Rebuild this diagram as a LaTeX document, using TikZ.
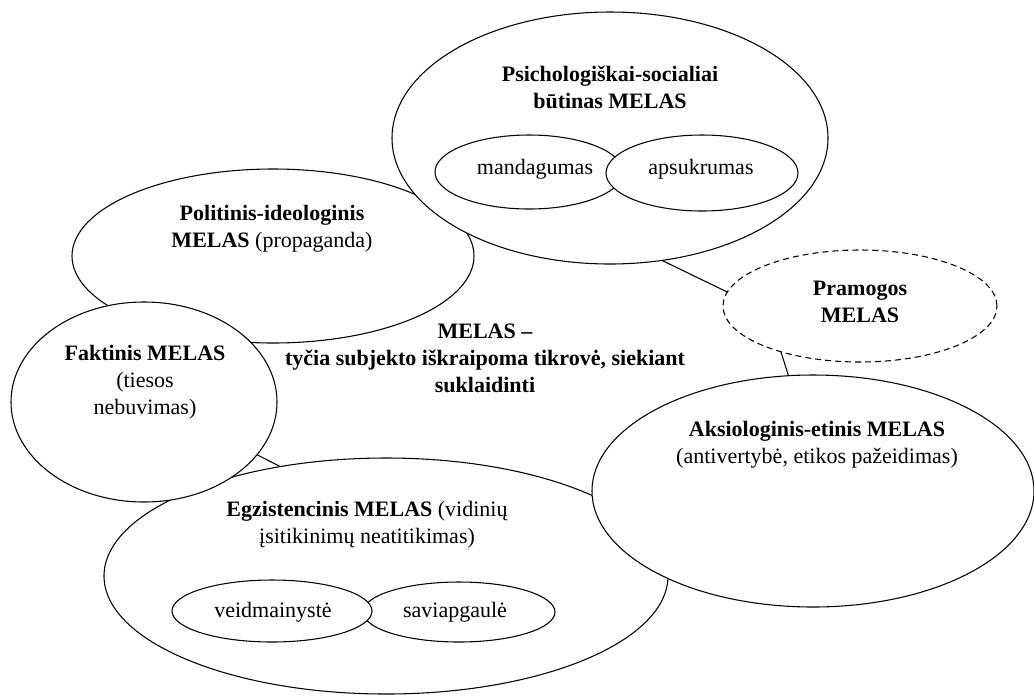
\documentclass[tikz,border=0pt]{standalone}
\usepackage{fontspec}
\setmainfont{Liberation Serif}
\usetikzlibrary{shapes.geometric}
\begin{document}
\begin{tikzpicture}[x=0.75pt,y=-0.75pt,
  oval/.style={ellipse, draw, line width=0.8pt, fill=white, inner sep=0pt, outer sep=0pt},
  radii/.style 2 args={minimum width=#1*1.5pt, minimum height=#2*1.5pt},
  dashedoval/.style={oval, dash pattern=on 4.5pt off 3pt},
  txt/.style={align=center, inner sep=0pt, font=\fontsize{16.5}{20.25}\selectfont},
  link/.style={line width=0.8pt}]
\useasboundingbox (0,0) rectangle (1034,697);

% ellipses lying behind the others
\node[oval, radii={201}{87}] (pol) at (273,256) {};
\node[oval, radii={282}{118}] (egz) at (386,576) {};

% front ellipses
\node[oval, radii={218}{126}] (psy) at (610,138) {};
\node[oval, radii={133}{100}] (fak) at (144,402) {};
\node[oval, radii={221}{116}] (aks) at (813,491) {};
\node[dashedoval, radii={137}{56}] (pra) at (860,306) {};

% inner pairs
\node[oval, radii={94}{37}] (man) at (529,172) {};
\node[oval, radii={96}{38}] (aps) at (702,173) {};
\node[oval, radii={96}{30}] (sav) at (459,612) {};
\node[oval, radii={100}{31}] (vei) at (272,611) {};

% short links between ellipses
\draw[link] (psy.-67.7) -- (pra.174);
\draw[link] (pra.210.5) -- (aks.102);
\draw[link] (fak.-25.1) -- (egz.134.5);

% labels
\node[txt] (tpsy) at (610,87) {\textbf{Psichologiškai-socialiai}\\\textbf{būtinas MELAS}};
\node[txt] (tman) at (535,169) {mandagumas};
\node[txt] (taps) at (701,169) {apsukrumas};
\node[txt] (tpol) at (272,229) {\textbf{Politinis-ideologinis}\\\textbf{MELAS} (propaganda)};
\node[txt] (tfak) at (145,382) {\textbf{Faktinis MELAS}\\(tiesos\\nebuvimas)};
\node[txt] (tpra) at (860,302) {\textbf{Pramogos}\\\textbf{MELAS}};
\node[txt] (taks) at (817,445) {\textbf{Aksiologinis-etinis MELAS}\\(antivertybė, etikos pažeidimas)};
\node[txt] (tegz) at (367,525) {\textbf{Egzistencinis MELAS} (vidinių\\įsitikinimų neatitikimas)};
\node[txt] (tvei) at (273,612) {veidmainystė};
\node[txt] (tsav) at (455,612) {saviapgaulė};
\node[txt] (tmain) at (485,358) {\textbf{MELAS –}\\\textbf{tyčia subjekto iškraipoma tikrovė, siekiant}\\\textbf{suklaidinti}};
\end{tikzpicture}
\end{document}
